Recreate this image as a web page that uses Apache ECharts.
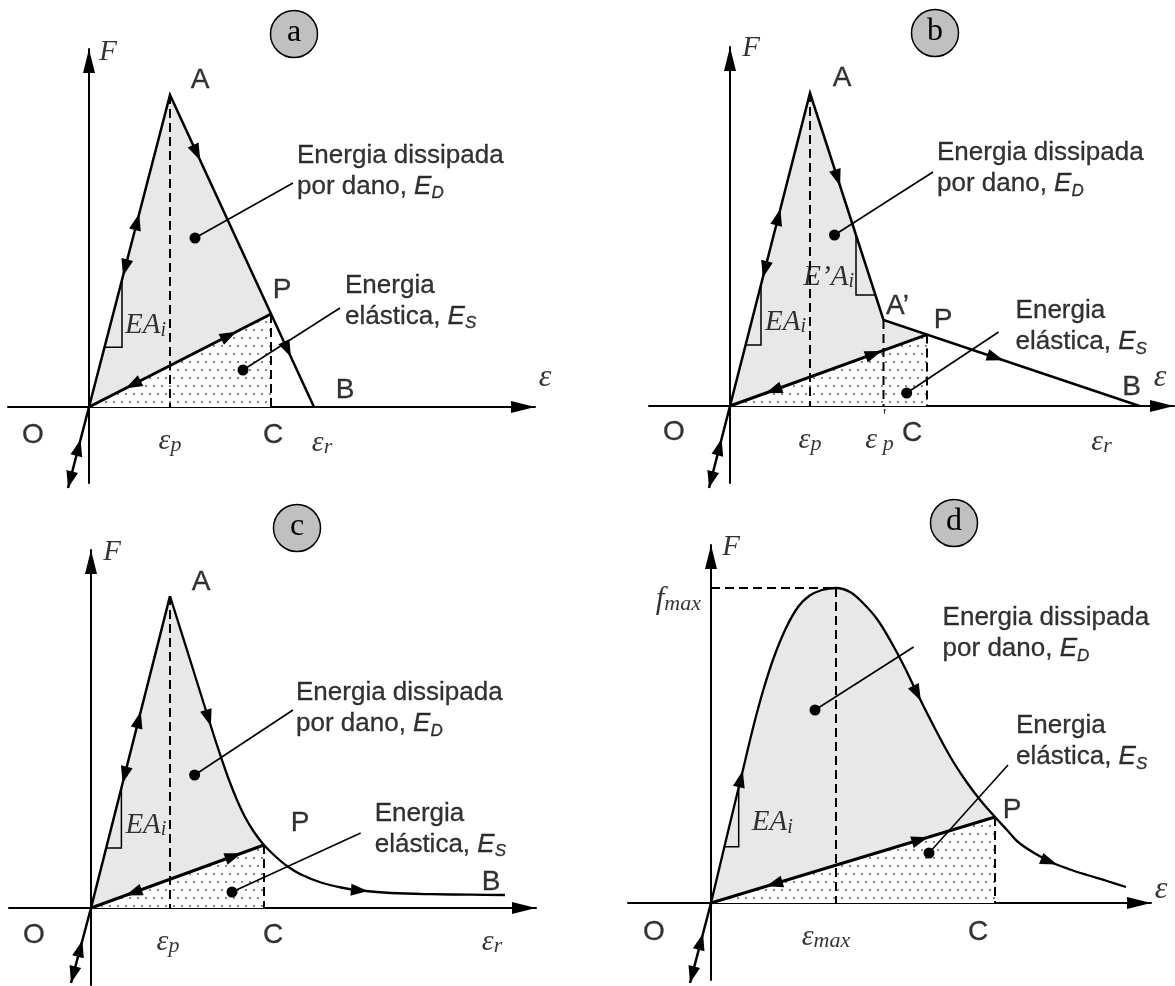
<!DOCTYPE html>
<html>
<head>
<meta charset="utf-8">
<script src="https://cdn.jsdelivr.net/npm/echarts@6/dist/echarts.min.js"></script>
<style>
  html, body { margin: 0; padding: 0; background: #fff; }
  #chart { width: 1175px; height: 986px; }
</style>
</head>
<body>
<div id="chart"></div>
<script>
// ---------- Data (strain ε on x, force F on y, arbitrary units) ----------
const origin = [0, 0];

// (a) linear softening
const aPeak = [81, 312];          // A = (ε_p, F_peak)
const aUnload = [182, 93];        // P, unloading point on A–B
const aRupture = [225, 0];        // B = (ε_r, 0)
const aCompression = [-21, -81];
const aDissipDot = [106, 169], aDissipTag = [204, 224];
const aElasticDot = [154, 37], aElasticTag = [251, 99];
const aSlopeX = [15.5, 33];

// (b) bilinear softening
const bPeak = [80, 313];          // A
const bKnee = [153.5, 86];        // A' = (ε'_p, F)
const bUnload = [197, 71.4];      // P
const bRupture = [409.5, 0];      // B
const bCompression = [-21, -82];
const bDissipDot = [104.5, 171], bDissipTag = [203, 234];
const bElasticDot = [176.7, 13], bElasticTag = [268.6, 74];
const bSlopeX = [15.6, 31];
const bSecantX = [126, 145.4];

// (c) exponential softening
const cPeak = [79, 312];
const cSoftening = [[79, 312], [101, 242], [123, 172], [131, 148], [138, 128], [146, 108],
  [154, 91], [163, 76], [173, 63], [184, 52], [196, 42], [210, 33.5], [230, 25.5],
  [250, 20.5], [270, 17.5], [300, 15], [340, 13.8], [380, 13.3], [414, 13]];
const cUnloadAt = 8;
const cCompression = [-20, -75];
const cDissipDot = [103.6, 133], cDissipTag = [202, 198];
const cElasticDot = [141, 16], cElasticTag = [269.7, 75];
const cSlopeX = [15.2, 30.4];

// (d) smooth response curve
const dCurve = [[0, 0], [15, 63], [30, 125], [42, 175], [52, 212], [63, 246], [75, 275],
  [87, 296], [98, 307], [111, 313], [125, 315], [139, 311], [152, 300], [166, 284],
  [179, 263], [193, 237], [206, 210], [218, 186], [230, 163], [243, 140], [257, 119],
  [270, 102], [284, 86], [296, 73], [307, 61], [324, 49.5], [342, 40], [359, 33.5],
  [376, 28], [396, 22], [415, 16]];
const dPeakAt = 10, dUnloadAt = 22;
const dCompression = [-21, -80];
const dDissipDot = [104, 193], dDissipTag = [202.6, 256];
const dElasticDot = [218, 50], dElasticTag = [297, 138];
const dSlopeX = [13.4, 27.7];

// ---------- Layout ----------
const layout = [
  { left: 8,   top: 49,  width: 527, height: 434, x: [-81, 446], y: [-76, 358] },
  { left: 649, top: 47,  width: 525, height: 436, x: [-81, 444], y: [-77, 359] },
  { left: 9,   top: 550, width: 527, height: 435, x: [-82, 445], y: [-77, 358] },
  { left: 628, top: 545, width: 523, height: 435, x: [-83, 440], y: [-77, 358] }
];
const badges = [['a', 294, 34], ['b', 935, 33], ['c', 297, 528], ['d', 954, 523]];

const SANS = 'Liberation Sans', SERIF = 'Liberation Serif';
const ink = { color: '#000', textBorderColor: '#000', textBorderWidth: 0.3 };
const plain = { color: '#000', textBorderWidth: 0 };
const rich = {
  ge: Object.assign({ fontFamily: SERIF, fontStyle: 'italic', fontSize: 30, lineHeight: 30 }, plain),
  gs: Object.assign({ fontFamily: SERIF, fontStyle: 'italic', fontSize: 22, lineHeight: 22, verticalAlign: 'bottom' }, plain),
  ea: Object.assign({ fontFamily: SERIF, fontStyle: 'italic', fontSize: 29, lineHeight: 30 }, plain),
  es: Object.assign({ fontFamily: SERIF, fontStyle: 'italic', fontSize: 20, lineHeight: 16, verticalAlign: 'bottom' }, plain),
  gx: Object.assign({ fontFamily: SERIF, fontStyle: 'italic', fontSize: 32 }, plain),
  ne: Object.assign({ fontFamily: SANS, fontStyle: 'italic', fontSize: 26, lineHeight: 31 }, ink),
  ns: Object.assign({ fontFamily: SANS, fontStyle: 'italic', fontSize: 17, lineHeight: 21, verticalAlign: 'bottom' }, ink),
  fe: Object.assign({ fontFamily: SERIF, fontStyle: 'italic', fontSize: 31, lineHeight: 30 }, plain),
  fs: Object.assign({ fontFamily: SERIF, fontStyle: 'italic', fontSize: 22, lineHeight: 20, verticalAlign: 'bottom' }, plain)
};
const fonts = {
  letter: Object.assign({ fontFamily: SANS, fontSize: 28 }, ink),
  note: Object.assign({ fontFamily: SANS, fontSize: 26, lineHeight: 31 }, ink),
  math: Object.assign({ fontFamily: SERIF, fontStyle: 'italic', fontSize: 28 }, plain),
  prime: Object.assign({ fontFamily: SERIF, fontSize: 20 }, plain)
};
const dissipText = 'Energia dissipada\npor dano, {ne|E}{ns|D}';
const elasticText = 'Energia\nelástica, {ne|E}{ns|S}';

// dotted tile for the elastic-energy area
const dotTile = document.createElement('canvas');
dotTile.width = 16; dotTile.height = 16;
(function () {
  const g = dotTile.getContext('2d');
  g.fillStyle = '#fff'; g.fillRect(0, 0, 16, 16);
  g.fillStyle = '#555';
  [[2, 2], [10, 2], [6, 10], [14, 10]].forEach(([x, y]) => {
    g.beginPath(); g.arc(x, y, 0.95, 0, Math.PI * 2); g.fill();
  });
})();

// ---------- Helpers ----------
function axis(gi, range) {
  return {
    type: 'value', gridIndex: gi, min: range[0], max: range[1],
    axisLine: { show: true, onZero: true, symbol: ['none', 'triangle'], symbolSize: [12, 24],
      symbolOffset: [0, -12], lineStyle: { color: '#000', width: 2 } },
    axisTick: { show: false }, axisLabel: { show: false }, splitLine: { show: false }
  };
}
function line(gi, pts, width, opts) {
  opts = opts || {};
  return {
    type: 'line', xAxisIndex: gi, yAxisIndex: gi, data: pts, silent: true, clip: false,
    showSymbol: false, symbol: 'none', smooth: opts.smooth || false,
    z: opts.z || 4,
    lineStyle: { color: '#000', width: width, type: opts.dash || 'solid', join: 'miter', cap: 'butt' }
  };
}
function leader(gi, dot, end) {
  return {
    type: 'line', xAxisIndex: gi, yAxisIndex: gi, silent: true, clip: false, z: 5,
    showSymbol: true, symbol: 'circle', symbolSize: 11,
    data: [{ value: dot }, { value: end, symbol: 'none' }],
    itemStyle: { color: '#000' }, lineStyle: { color: '#000', width: 1.6 }
  };
}
function slopeMark(p, q, xs) {
  const s = (q[1] - p[1]) / (q[0] - p[0]);
  const f = x => p[1] + s * (x - p[0]);
  const A = [xs[0], f(xs[0])], B = [xs[1], f(xs[1])];
  const up = A[1] > B[1] ? A : B, lo = A[1] > B[1] ? B : A;
  return [lo, [up[0], lo[1]], up];
}
function fill(gi, dissip, elastic) {
  return {
    type: 'custom', xAxisIndex: gi, yAxisIndex: gi, z: 1, silent: true, data: [[0, 0]],
    renderItem: (p, api) => ({
      type: 'group', children: [
        { type: 'polygon', shape: { points: dissip.map(q => api.coord(q)) }, style: { fill: '#e8e8e8' } },
        { type: 'polygon', shape: { points: elastic.map(q => api.coord(q)) },
          style: { fill: { image: dotTile, repeat: 'repeat' } } }
      ]
    })
  };
}
function arrowheads(gi, list) {
  return {
    type: 'custom', xAxisIndex: gi, yAxisIndex: gi, z: 6, silent: true,
    data: list.map(() => [0, 0]),
    renderItem: (p, api) => {
      const [from, to, t] = list[p.dataIndex];
      const a = api.coord(from), b = api.coord(to);
      const dx = b[0] - a[0], dy = b[1] - a[1], len = Math.hypot(dx, dy);
      const ux = dx / len, uy = dy / len, L = 17, W = 6;
      const tip = [a[0] + dx * t, a[1] + dy * t];
      const bx = tip[0] - ux * L, by = tip[1] - uy * L;
      return { type: 'polygon', shape: { points: [tip, [bx - uy * W, by + ux * W], [bx + uy * W, by - ux * W]] },
        style: { fill: '#000' } };
    }
  };
}
function labels(gi, list) {
  return {
    type: 'scatter', xAxisIndex: gi, yAxisIndex: gi, symbolSize: 1, clip: false, silent: true, z: 10,
    itemStyle: { color: 'rgba(0,0,0,0)' },
    data: list.map(([pt, text, dx, dy, align, kind]) => ({
      value: pt,
      label: Object.assign({ show: true, position: 'inside', formatter: () => text, offset: [dx, dy],
        align: align || 'center', verticalAlign: 'middle', rich: rich }, fonts[kind || 'letter'])
    }))
  };
}
function panel(gi, s) {
  const out = [fill(gi, s.dissipArea, s.elasticArea)];
  s.dashed.forEach(seg => out.push(line(gi, seg, 2, { dash: [9, 5], z: 3 })));
  s.solid.forEach(([pts, w, smooth]) => out.push(line(gi, pts, w, { smooth })));
  s.marks.forEach(tri => out.push(line(gi, tri, 1.5)));
  s.leaders.forEach(([d, e]) => out.push(leader(gi, d, e)));
  out.push(arrowheads(gi, s.arrows));
  out.push(labels(gi, s.labels));
  return out;
}

// ---------- Panels ----------
const aMark = slopeMark(origin, aPeak, aSlopeX);
const panelA = panel(0, {
  dissipArea: [origin, aPeak, aUnload],
  elasticArea: [origin, aUnload, [aUnload[0], 0]],
  dashed: [[aPeak, [aPeak[0], 0]], [aUnload, [aUnload[0], 0]]],
  solid: [[[aCompression, origin, aPeak, aRupture], 2.5], [[origin, aUnload], 3]],
  marks: [aMark],
  leaders: [[aDissipDot, aDissipTag], [aElasticDot, aElasticTag]],
  arrows: [[origin, aPeak, 0.62], [aPeak, origin, 0.58], [aPeak, aRupture, 0.21], [aPeak, aRupture, 0.84],
    [origin, aUnload, 0.81], [aUnload, origin, 0.8], [aCompression, origin, 0.6], [origin, aCompression, 1]],
  labels: [
    [aPeak, 'A', 30, -15], [aUnload, 'P', 11, -24], [aRupture, 'B', 31, -17], [origin, 'O', -56, 28],
    [[aPeak[0], 0], '{ge|ε}{gs|p}', 0, 34, 'center', 'math'],
    [[aUnload[0], 0], 'C', 2, 28],
    [[aRupture[0], 0], '{ge|ε}{gs|r}', 8, 36, 'center', 'math'],
    [[0, layout[0].y[1]], '{ea|F}', 19, 3, 'center', 'math'],
    [[layout[0].x[1], 0], '{gx|ε}', 10, -29, 'center', 'math'],
    [aMark[1], '{ea|EA}{es|i}', 3, -22, 'left', 'math'],
    [aDissipTag, dissipText, 4, -12, 'left', 'note'],
    [aElasticTag, elasticText, 5, -7, 'left', 'note']
  ]
});

const bMark = slopeMark(origin, bPeak, bSlopeX);
const bSecant = slopeMark(bPeak, bKnee, bSecantX);
const panelB = panel(1, {
  dissipArea: [origin, bPeak, bKnee, bUnload],
  elasticArea: [origin, bUnload, [bUnload[0], 0]],
  dashed: [[bPeak, [bPeak[0], 0]], [bKnee, [bKnee[0], 0]], [bUnload, [bUnload[0], 0]]],
  solid: [[[bCompression, origin, bPeak, bKnee, bRupture], 2.5], [[origin, bUnload], 3]],
  marks: [bMark, bSecant],
  leaders: [[bDissipDot, bDissipTag], [bElasticDot, bElasticTag]],
  arrows: [[origin, bPeak, 0.63], [bPeak, origin, 0.59], [bPeak, bKnee, 0.41], [bUnload, bRupture, 0.36],
    [origin, bUnload, 0.77], [bUnload, origin, 0.82], [bCompression, origin, 0.6], [origin, bCompression, 1]],
  labels: [
    [bPeak, 'A', 32, -15], [bKnee, 'A’', 14, -14], [bUnload, 'P', 16, -14], [bRupture, 'B', -8, -19],
    [origin, 'O', -56, 26],
    [[bPeak[0], 0], '{ge|ε}{gs|p}', 0, 34, 'center', 'math'],
    [[bKnee[0], 0], '{ge|ε}{gs| p}', -4, 34, 'center', 'math'],
    [[bKnee[0], 0], "'", 1, 12, 'center', 'prime'],
    [[bUnload[0], 0], 'C', -15, 27],
    [[bRupture[0], 0], '{ge|ε}{gs|r}', -38, 36, 'center', 'math'],
    [[0, layout[1].y[1]], '{ea|F}', 21, 1, 'center', 'math'],
    [[layout[1].x[1], 0], '{gx|ε}', -14, -28, 'center', 'math'],
    [bMark[1], '{ea|EA}{es|i}', 4, -23, 'left', 'math'],
    [bSecant[1], '{ea|E’A}{es|i}', -2, -18, 'right', 'math'],
    [bDissipTag, dissipText, 4, -3.5, 'left', 'note'],
    [bElasticTag, elasticText, 17, -5.5, 'left', 'note']
  ]
});

const cUnload = cSoftening[cUnloadAt];
const cMark = slopeMark(origin, cPeak, cSlopeX);
const cEnd = cSoftening[cSoftening.length - 1];
const panelC = panel(2, {
  dissipArea: [origin].concat(cSoftening.slice(0, cUnloadAt + 1)),
  elasticArea: [origin, cUnload, [cUnload[0], 0]],
  dashed: [[cPeak, [cPeak[0], 0]], [cUnload, [cUnload[0], 0]]],
  solid: [[[cCompression, origin, cPeak], 2.5], [cSoftening, 2.3, 0.35], [[origin, cUnload], 3]],
  marks: [cMark],
  leaders: [[cDissipDot, cDissipTag], [cElasticDot, cElasticTag]],
  arrows: [[origin, cPeak, 0.63], [cPeak, origin, 0.6], [cSoftening[1], cSoftening[2], 0.86],
    [cSoftening[14], cSoftening[15], 0.23],
    [origin, cUnload, 0.87], [cUnload, origin, 0.8], [cCompression, origin, 0.57], [origin, cCompression, 1]],
  labels: [
    [cPeak, 'A', 31, -14], [cUnload, 'P', 36, -22], [cEnd, 'B', -14, -13], [origin, 'O', -57, 27],
    [[cPeak[0], 0], '{ge|ε}{gs|p}', -2, 34, 'center', 'math'],
    [[cUnload[0], 0], 'C', 9, 27],
    [[cEnd[0], 0], '{ge|ε}{gs|r}', -13, 34, 'center', 'math'],
    [[0, layout[2].y[1]], '{ea|F}', 21, 2, 'center', 'math'],
    [cMark[1], '{ea|EA}{es|i}', 4, -23, 'left', 'math'],
    [cDissipTag, dissipText, 3, -1.5, 'left', 'note'],
    [cElasticTag, elasticText, 14, -4, 'left', 'note']
  ]
});

const dPeak = dCurve[dPeakAt], dUnload = dCurve[dUnloadAt];
const dMark = slopeMark(origin, dCurve[1], dSlopeX);
const panelD = panel(3, {
  dissipArea: dCurve.slice(0, dUnloadAt + 1),
  elasticArea: [origin, dUnload, [dUnload[0], 0]],
  dashed: [[[0, dPeak[1]], dPeak], [dPeak, [dPeak[0], 0]], [dUnload, [dUnload[0], 0]]],
  solid: [[[dCompression, origin], 2.5], [dCurve, 2.3, 0.35], [[origin, dUnload], 3]],
  marks: [dMark],
  leaders: [[dDissipDot, dDissipTag], [dElasticDot, dElasticTag]],
  arrows: [[dCurve[2], dCurve[3], 0.15], [dCurve[16], dCurve[17], 0.33], [dCurve[26], dCurve[27], 0.24],
    [origin, dUnload, 0.765], [dUnload, origin, 0.806], [dCompression, origin, 0.62], [origin, dCompression, 1]],
  labels: [
    [[0, dPeak[1]], '{fe|f}{fs|max}', -10, 12, 'right', 'math'],
    [[dPeak[0], 0], '{ge|ε}{gs|max}', -10, 34, 'center', 'math'],
    [[dUnload[0], 0], 'C', -17, 29], [origin, 'O', -57, 29], [dUnload, 'P', 17, -7],
    [[0, layout[3].y[1]], '{ea|F}', 20, 2, 'center', 'math'],
    [[layout[3].x[1], 0], '{gx|ε}', 10, -13, 'center', 'math'],
    [dMark[1], '{ea|EA}{es|i}', 13, -24, 'left', 'math'],
    [dDissipTag, dissipText, 29, -13.5, 'left', 'note'],
    [dElasticTag, elasticText, 8, -23.5, 'left', 'note']
  ]
});

const chart = echarts.init(document.getElementById('chart'), null, { renderer: 'canvas' });
chart.setOption({
  animation: false,
  backgroundColor: '#fff',
  grid: layout.map(l => ({ left: l.left, top: l.top, width: l.width, height: l.height, containLabel: false })),
  xAxis: layout.map((l, i) => axis(i, l.x)),
  yAxis: layout.map((l, i) => axis(i, l.y)),
  graphic: badges.map(([t, x, y]) => ({
    type: 'group', x: x, y: y, silent: true, children: [
      { type: 'circle', shape: { cx: 0, cy: 0, r: 23.5 }, style: { fill: '#c0c0c0', stroke: '#000', lineWidth: 1.5 } },
      { type: 'text', style: { text: t, x: 0, y: -1, align: 'center', verticalAlign: 'middle',
        fontFamily: SERIF, fontSize: 32, fill: '#000' } }
    ]
  })),
  series: [].concat(panelA, panelB, panelC, panelD)
});
</script>
</body>
</html>
